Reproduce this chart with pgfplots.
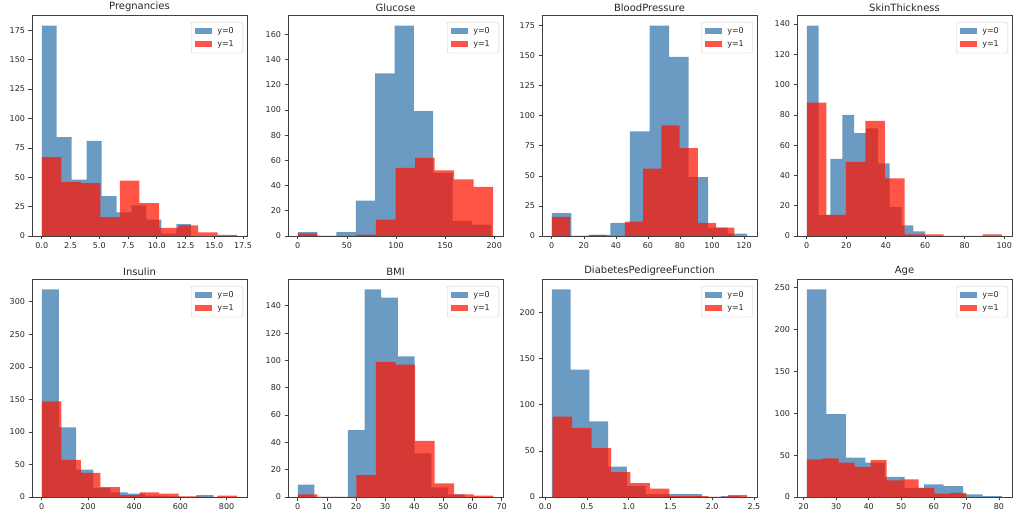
\documentclass[border=0pt]{standalone}
\usepackage{fontspec}
\setmainfont{DejaVu Sans}
\usepackage{pgfplots}
\pgfplotsset{compat=1.18}
\definecolor{hblue}{RGB}{70,130,180}
\definecolor{hred}{RGB}{255,20,0}
\pgfplotsset{
  hist/.style={
    scale only axis, width=215pt, height=221pt,
    anchor=south west, ymin=0,
    axis line style={draw=black!75, line width=0.6pt},
    every tick/.style={draw=black!75, line width=0.6pt},
    tick align=outside, xtick pos=bottom, ytick pos=left,
    major tick length=3.5pt,
    ticklabel style={font=\fontsize{8}{9}\selectfont, text=black!85},
    /pgf/number format/assume math mode=true,
    title style={font=\fontsize{10}{12}\selectfont, text=black!85, yshift=-6.5pt},
    legend style={at={(1,1)}, anchor=north east, xshift=-4pt, yshift=-7pt,
      draw=black!20, rounded corners=2pt, font=\fontsize{8}{9}\selectfont,
      inner xsep=4pt, inner ysep=3pt, row sep=2pt, text=black!85,
      nodes={inner xsep=5pt}},
    legend cell align=left,
  },
  hb/.style={ybar interval, fill=hblue, fill opacity=0.8, draw=none,
    legend image code/.code={\fill[hblue, fill opacity=0.8, sharp corners] (0pt,-3pt) rectangle (17pt,3pt);}},
  hr/.style={ybar interval, fill=hred, fill opacity=0.72, draw=none,
    legend image code/.code={\fill[hred, fill opacity=0.72, sharp corners] (0pt,-3pt) rectangle (17pt,3pt);}},
  row1/.style={height=221pt},
  row2/.style={height=218pt},
}
\begin{document}
\begin{tikzpicture}
\useasboundingbox (0pt,0pt) rectangle (1022pt,527pt);
% ---------------- Pregnancies
\begin{axis}[hist, row1, at={(32pt,291pt)}, title={Pregnancies},
  xmin=-0.85, xmax=17.85, ymax=187.95,
  xtick={0,2.5,5,7.5,10,12.5,15,17.5},
  xticklabels={0.0,2.5,5.0,7.5,10.0,12.5,15.0,17.5},
  ytick={0,25,50,75,100,125,150,175}]
\addplot[hb] coordinates {(0,179) (1.3,84) (2.6,48) (3.9,81) (5.2,34) (6.5,20) (7.8,26) (9.1,14) (10.4,2) (11.7,10) (13,10)};
\addlegendentry{y=0}
\addplot[hr] coordinates {(0,67) (1.7,46) (3.4,45) (5.1,16) (6.8,47) (8.5,28) (10.2,7) (11.9,9) (13.6,3) (15.3,1) (17,1)};
\addlegendentry{y=1}
\end{axis}
% ---------------- Glucose
\begin{axis}[hist, row1, at={(288pt,291pt)}, title={Glucose},
  xmin=-9.95, xmax=208.95, ymax=175.35,
  xtick={0,50,100,150,200},
  ytick={0,20,40,60,80,100,120,140,160}]
\addplot[hb] coordinates {(0,3) (19.7,0) (39.4,3) (59.1,28) (78.8,129) (98.5,167) (118.2,99) (137.9,50) (157.6,12) (177.3,9) (197,9)};
\addlegendentry{y=0}
\addplot[hr] coordinates {(0,2) (19.9,0) (39.8,0) (59.7,1) (79.6,13) (99.5,54) (119.4,62) (139.3,52) (159.2,45) (179.1,39) (199,39)};
\addlegendentry{y=1}
\end{axis}
% ---------------- BloodPressure
\begin{axis}[hist, row1, at={(542pt,291pt)}, title={BloodPressure},
  xmin=-6.1, xmax=128.1, ymax=183.75,
  xtick={0,20,40,60,80,100,120},
  ytick={0,25,50,75,100,125,150,175}]
\addplot[hb] coordinates {(0,19) (12.2,0) (24.4,1) (36.6,11) (48.8,87) (61,175) (73.2,149) (85.4,49) (97.6,7) (109.8,2) (122,2)};
\addlegendentry{y=0}
\addplot[hr] coordinates {(0,16) (11.4,0) (22.8,1) (34.2,0) (45.6,12) (57,56) (68.4,92) (79.8,73) (91.2,11) (102.6,7) (114,7)};
\addlegendentry{y=1}
\end{axis}
% ---------------- SkinThickness
\begin{axis}[hist, row1, at={(797pt,291pt)}, title={SkinThickness},
  xmin=-4.95, xmax=103.95, ymax=145.95,
  xtick={0,20,40,60,80,100},
  ytick={0,20,40,60,80,100,120,140}]
\addplot[hb] coordinates {(0,139) (6,14) (12,51) (18,80) (24,68) (30,71) (36,48) (42,19) (48,7) (54,3) (60,3)};
\addlegendentry{y=0}
\addplot[hr] coordinates {(0,88) (9.9,14) (19.8,49) (29.7,76) (39.6,38) (49.5,1) (59.4,1) (69.3,0) (79.2,0) (89.1,1) (99,1)};
\addlegendentry{y=1}
\end{axis}
% ---------------- Insulin
\begin{axis}[hist, row2, at={(32pt,30pt)}, title={Insulin},
  xmin=-42.3, xmax=888.3, ymax=334.95,
  xtick={0,200,400,600,800},
  ytick={0,50,100,150,200,250,300}]
\addplot[hb] coordinates {(0,319) (74.4,107) (148.8,42) (223.2,14) (297.6,7) (372,5) (446.4,2) (520.8,1) (595.2,0) (669.6,3) (744,3)};
\addlegendentry{y=0}
\addplot[hr] coordinates {(0,147) (84.6,57) (169.2,37) (253.8,15) (338.4,3) (423,7) (507.6,5) (592.2,1) (676.8,0) (761.4,2) (846,2)};
\addlegendentry{y=1}
\end{axis}
% ---------------- BMI
\begin{axis}[hist, row2, at={(288pt,30pt)}, title={BMI},
  xmin=-3.355, xmax=70.455, ymax=159.6,
  xtick={0,10,20,30,40,50,60,70},
  ytick={0,20,40,60,80,100,120,140}]
\addplot[hb] coordinates {(0,9) (5.73,0) (11.46,0) (17.19,49) (22.92,152) (28.65,146) (34.38,103) (40.11,32) (45.84,7) (51.57,2) (57.3,2)};
\addlegendentry{y=0}
\addplot[hr] coordinates {(0,2) (6.71,0) (13.42,0) (20.13,16) (26.84,99) (33.55,97) (40.26,41) (46.97,10) (53.68,2) (60.39,1) (67.1,1)};
\addlegendentry{y=1}
\end{axis}
% ---------------- DiabetesPedigreeFunction
\begin{axis}[hist, row2, at={(542pt,30pt)}, title={DiabetesPedigreeFunction},
  xmin=-0.0391, xmax=2.5371, ymax=236.25,
  xtick={0,0.5,1,1.5,2,2.5},
  xticklabels={0.0,0.5,1.0,1.5,2.0,2.5},
  ytick={0,50,100,150,200}]
\addplot[hb] coordinates {(0.078,225) (0.3031,138) (0.5282,82) (0.7533,33) (0.9784,12) (1.2035,3) (1.4286,3) (1.6537,3) (1.8788,0) (2.1039,1) (2.329,1)};
\addlegendentry{y=0}
\addplot[hr] coordinates {(0.088,87) (0.3212,75) (0.5544,53) (0.7876,27) (1.0208,15) (1.254,9) (1.4872,1) (1.7204,1) (1.9536,0) (2.1868,2) (2.42,2)};
\addlegendentry{y=1}
\end{axis}
% ---------------- Age
\begin{axis}[hist, row2, at={(797pt,30pt)}, title={Age},
  xmin=18, xmax=84, ymax=260.4,
  xtick={20,30,40,50,60,70,80},
  ytick={0,50,100,150,200,250}]
\addplot[hb] coordinates {(21,248) (27,99) (33,47) (39,41) (45,24) (51,11) (57,15) (63,13) (69,3) (75,1) (81,1)};
\addlegendentry{y=0}
\addplot[hr] coordinates {(21,45) (25.9,46) (30.8,41) (35.7,36) (40.6,44) (45.5,20) (50.4,21) (55.3,11) (60.2,4) (65.1,5) (70,5)};
\addlegendentry{y=1}
\end{axis}
\end{tikzpicture}
\end{document}
